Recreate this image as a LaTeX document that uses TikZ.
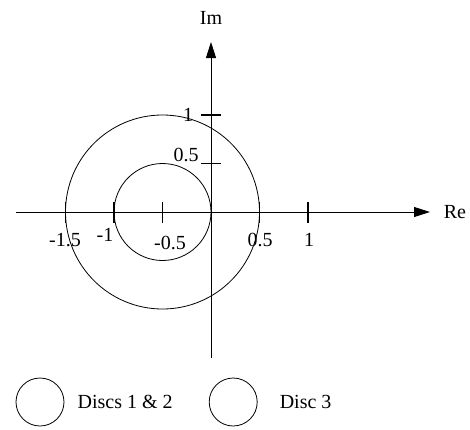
\documentclass[tikz,border=0pt]{standalone}
\usepackage{fontspec}
\setmainfont{Liberation Serif}
\usetikzlibrary{arrows.meta,positioning}

\begin{document}
\begin{tikzpicture}[
		x=97pt, y=97pt,
		axis/.style={line width=0.9pt, -{Triangle[length=16pt,width=10pt]}},
		tickmark/.style={line width=1.6pt},
		disc/.style={line width=0.8pt},
		legenddisc/.style={draw, circle, line width=0.8pt, minimum size=48pt, inner sep=0pt},
		every node/.style={font=\fontsize{20}{24}\selectfont, inner sep=0pt}
		]
		
		\useasboundingbox (-211pt,-217pt) rectangle (259pt,212pt);
		
		% Achsen
		\coordinate (xstart) at (-195pt,0);
		\coordinate (xend) at (219pt,0);
		\coordinate (ystart) at (0,-146pt);
		\coordinate (yend) at (0,170pt);
		\draw[axis] (xstart) -- (xend);
		\draw[axis] (ystart) -- (yend);
		\node (re) at (244pt,0) {Re};
		\node (im) at (0,194pt) {Im};
		
		% Kreise
		\draw[disc] (-0.5,0) circle (0.5);
		\draw[disc] (-0.5,0) circle (1);
		
		% Teilstriche
		\foreach \t in {-1.5,-1,-0.5,0.5,1}
			\draw[tickmark] ([yshift=-11pt]\t,0) -- ([yshift=10pt]\t,0);
		\foreach \t in {0.5,1}
			\draw[tickmark] ([xshift=-10pt]0,\t) -- ([xshift=10pt]0,\t);
		
		\node (lxa) at (-146pt,-28pt) {-1.5};
		\node (lxb) at (-106pt,-23pt) {-1};
		\node (lxc) at (-41pt,-31pt) {-0.5};
		\node (lxd) at (49pt,-28pt) {0.5};
		\node (lxe) at (98pt,-28pt) {1};
		\node (lya) at (-25pt,57pt) {0.5};
		\node (lyb) at (-23pt,97pt) {1};
		
		% Legende
		\node[legenddisc] (discA) at (-171pt,-190pt) {};
		\node[right=13pt of discA] (textA) {Discs 1 \& 2};
		\node[legenddisc, right=36pt of textA] (discB) {};
		\node[right=22pt of discB] (textB) {Disc 3};
		
	\end{tikzpicture}
\end{document}
